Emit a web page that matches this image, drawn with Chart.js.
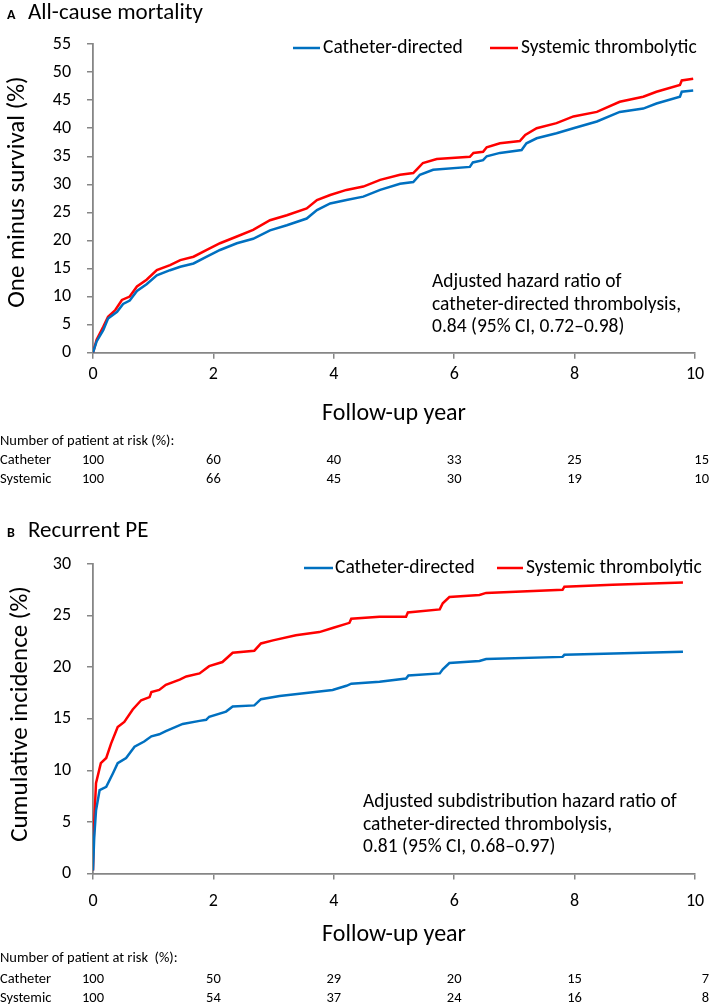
<!DOCTYPE html>
<html>
<head>
<meta charset="utf-8">
<script src="https://cdn.jsdelivr.net/npm/chart.js@4.4.1/dist/chart.umd.min.js"></script>
<style>
html,body{margin:0;padding:0;background:#fff;}
#wrap{position:relative;width:709px;height:1005px;overflow:hidden;}
canvas{position:absolute;left:0;}
#ca{top:0;}
#cb{top:510px;}
</style>
</head>
<body>
<div id="wrap">
<canvas id="ca" width="709" height="510"></canvas>
<canvas id="cb" width="709" height="495"></canvas>
</div>
<script>
// ---------- DATA ----------
// Panel A: all-cause mortality (one minus survival, %)
const mortCatheterYears = [0,0.06,0.17,0.25,0.40,0.50,0.61,0.73,0.89,1.06,1.28,1.45,1.67,1.89,2.11,2.39,2.66,2.94,3.22,3.55,3.72,3.94,4.21,4.49,4.77,5.10,5.32,5.43,5.65,6.26,6.31,6.48,6.54,6.76,7.12,7.20,7.37,7.70,7.98,8.37,8.75,9.14,9.36,9.75,9.78,9.97];
const mortCatheterPct   = [0,2.0,4.0,6.1,7.3,8.7,9.3,11.0,12.2,13.8,14.7,15.3,15.9,17.1,18.3,19.5,20.3,21.8,22.7,23.9,25.4,26.6,27.2,27.8,29.0,30.1,30.4,31.7,32.6,33.1,33.9,34.3,35.0,35.6,36.1,37.3,38.2,39.1,40.0,41.2,42.9,43.5,44.4,45.6,46.5,46.7];
const mortSystemicYears = [0,0.06,0.17,0.25,0.37,0.48,0.61,0.73,0.89,1.06,1.28,1.45,1.67,1.89,2.11,2.39,2.66,2.94,3.22,3.55,3.72,3.94,4.21,4.49,4.77,5.10,5.32,5.40,5.48,5.71,6.26,6.32,6.48,6.54,6.76,7.09,7.18,7.37,7.70,7.98,8.37,8.75,9.14,9.36,9.75,9.78,9.97];
const mortSystemicPct   = [0,2.3,4.6,6.4,7.6,9.4,10.0,11.8,13.0,14.7,15.6,16.5,17.1,18.3,19.5,20.7,21.9,23.6,24.5,25.7,27.2,28.1,29.0,29.6,30.8,31.7,32.0,32.9,33.8,34.5,34.9,35.6,35.8,36.6,37.3,37.7,38.8,40.0,40.9,42.1,42.9,44.7,45.6,46.5,47.7,48.5,48.8];

// Panel B: recurrent PE (cumulative incidence, %)
const peCatheterYears = [0,0.02,0.05,0.11,0.22,0.33,0.41,0.55,0.69,0.85,0.97,1.10,1.21,1.49,1.77,1.88,1.93,2.21,2.32,2.68,2.79,3.10,3.54,3.98,4.21,4.29,4.76,5.20,5.24,5.76,5.81,5.92,6.42,6.53,7.80,7.83,9.80];
const peCatheterPct   = [0.3,3.5,6.1,8.1,8.4,9.7,10.7,11.2,12.3,12.8,13.3,13.5,13.8,14.5,14.8,14.9,15.2,15.7,16.2,16.3,16.9,17.2,17.5,17.8,18.2,18.4,18.6,18.9,19.2,19.4,19.8,20.4,20.6,20.8,21.0,21.2,21.5];
const peSystemicYears = [0,0.02,0.05,0.13,0.22,0.30,0.41,0.52,0.66,0.80,0.94,0.97,1.10,1.21,1.44,1.55,1.77,1.93,2.15,2.32,2.68,2.79,2.99,3.37,3.76,3.98,4.26,4.29,4.76,5.20,5.23,5.76,5.81,5.92,6.42,6.53,7.80,7.83,8.63,9.80];
const peSystemicPct   = [0.3,5.0,8.75,10.7,11.2,12.6,14.2,14.7,15.9,16.8,17.1,17.6,17.8,18.3,18.8,19.1,19.4,20.1,20.5,21.4,21.6,22.3,22.6,23.1,23.4,23.8,24.3,24.7,24.9,24.9,25.3,25.6,26.2,26.8,27.0,27.2,27.5,27.8,28.0,28.2];

// Number of patients at risk (%)
const riskYears = [0,2,4,6,8,10];
const mortRiskCatheter = [100,60,40,33,25,15];
const mortRiskSystemic = [100,66,45,30,19,10];
const peRiskCatheter = [100,50,29,20,15,7];
const peRiskSystemic = [100,54,37,24,16,8];

// Labels
const seriesNames = ['Catheter-directed','Systemic thrombolytic'];
const riskRowNames = ['Catheter','Systemic'];
const xTitle = 'Follow-up year';

// ---------- RENDER ----------
const FONT = 'Carlito, Lato, "Noto Sans", sans-serif';
const BLUE = '#0070C0', RED = '#FF0000', AXIS = '#868686';

function pts(xs, ys){ return xs.map((x,i)=>({x:x, y:ys[i]})); }

function panelPlugin(p){
  return {
    id: 'panelText',
    afterDraw(chart){
      const ctx = chart.ctx, xs = chart.scales.x, ca = chart.chartArea, o = p.top;
      ctx.save();
      ctx.fillStyle = '#000';
      // Panel title
      ctx.textAlign = 'left'; ctx.textBaseline = 'alphabetic';
      ctx.font = 'bold 14px ' + FONT;
      ctx.fillText(p.letter, 7, p.titleBase - o);
      ctx.font = '23px ' + FONT;
      ctx.fillText(p.title, 28, p.titleBase - o);
      // Legend
      ctx.textBaseline = 'middle';
      ctx.font = '19.5px ' + FONT;
      ctx.lineWidth = 2.5;
      p.legend.forEach((l,i)=>{
        ctx.strokeStyle = i===0 ? BLUE : RED;
        ctx.beginPath(); ctx.moveTo(l[0], p.legendY - o); ctx.lineTo(l[1], p.legendY - o); ctx.stroke();
        ctx.fillText(seriesNames[i], l[2], p.legendY - o);
      });
      // Annotation
      ctx.font = '19.5px ' + FONT;
      p.note.forEach((t,i)=> ctx.fillText(t, p.noteX, p.noteY[i] - o));
      // Y-axis title
      ctx.save();
      ctx.translate(p.yTitleX, p.yTitleY - o);
      ctx.rotate(-Math.PI/2);
      ctx.textAlign = 'center';
      ctx.font = '25px ' + FONT;
      ctx.fillText(p.yTitle, 0, 0);
      ctx.restore();
      // X-axis title
      ctx.textAlign = 'center';
      ctx.font = '24px ' + FONT;
      ctx.fillText(xTitle, (ca.left+ca.right)/2, p.xTitleY - o);
      // At-risk table
      ctx.font = '14.5px ' + FONT;
      ctx.textAlign = 'left';
      ctx.fillText(p.riskHeader, 0, p.riskY[0] - o);
      ctx.fillText(riskRowNames[0], 0, p.riskY[1] - o);
      ctx.fillText(riskRowNames[1], 0, p.riskY[2] - o);
      riskYears.forEach((yr,i)=>{
        const last = i === riskYears.length - 1;
        ctx.textAlign = last ? 'right' : 'center';
        const x = last ? 709 : xs.getPixelForValue(yr);
        ctx.fillText(String(p.risk[0][i]), x, p.riskY[1] - o);
        ctx.fillText(String(p.risk[1][i]), x, p.riskY[2] - o);
      });
      ctx.restore();
    }
  };
}

function makeChart(id, p){
  return new Chart(document.getElementById(id), {
    type: 'line',
    data: { datasets: [
      { label: seriesNames[0], data: pts(p.cx, p.cy), borderColor: BLUE, borderWidth: 2.5, pointRadius: 0, tension: 0, fill: false },
      { label: seriesNames[1], data: pts(p.sx, p.sy), borderColor: RED, borderWidth: 2.5, pointRadius: 0, tension: 0, fill: false }
    ]},
    options: {
      responsive: false, animation: false, devicePixelRatio: 1,
      layout: { padding: { top: p.padTop, right: 14, left: 0, bottom: 0 } },
      plugins: { legend: { display: false }, tooltip: { enabled: false }, title: { display: false } },
      scales: {
        x: {
          type: 'linear', min: 0, max: 10,
          ticks: { stepSize: 2, color: '#000', font: { family: FONT, size: 18 }, padding: p.xTickPad, maxRotation: 0 },
          grid: { display: true, drawOnChartArea: false, drawTicks: true, tickLength: 6, color: AXIS, lineWidth: 1.5 },
          border: { display: true, color: AXIS, width: 1.8 },
          afterFit(s){ s.height = p.xAxisH; s.paddingRight = 0; s.paddingLeft = 0; }
        },
        y: {
          min: 0, max: p.ymax,
          ticks: { stepSize: 5, color: '#000', font: { family: FONT, size: 18 }, padding: 16 },
          grid: { display: true, drawOnChartArea: false, drawTicks: true, tickLength: 6, color: AXIS, lineWidth: 1.5 },
          border: { display: true, color: AXIS, width: 1.8 },
          afterFit(s){ s.width = 93; }
        }
      }
    },
    plugins: [panelPlugin(p)]
  });
}

makeChart('ca', {
  top: 0, padTop: 44, xAxisH: 157.3, xTickPad: 5, ymax: 55,
  cx: mortCatheterYears, cy: mortCatheterPct, sx: mortSystemicYears, sy: mortSystemicPct,
  letter: 'A', title: 'All-cause mortality', titleBase: 19,
  legendY: 48, legend: [[293,320,323],[490,518,521]],
  note: ['Adjusted hazard ratio of','catheter-directed thrombolysis,','0.84 (95% CI, 0.72\u20130.98)'],
  noteX: 432, noteY: [282,305,327],
  yTitle: 'One minus survival (%)', yTitleX: 18, yTitleY: 192,
  xTitleY: 414,
  riskHeader: 'Number of patient at risk (%):', riskY: [441,460,479],
  risk: [mortRiskCatheter, mortRiskSystemic]
});

makeChart('cb', {
  top: 510, padTop: 54, xAxisH: 131.4, xTickPad: 11, ymax: 30,
  cx: peCatheterYears, cy: peCatheterPct, sx: peSystemicYears, sy: peSystemicPct,
  letter: 'B', title: 'Recurrent PE', titleBase: 537,
  legendY: 568, legend: [[304,333,335],[497,523,526]],
  note: ['Adjusted subdistribution hazard ratio of','catheter-directed thrombolysis,','0.81 (95% CI, 0.68\u20130.97)'],
  noteX: 363, noteY: [802,825,847],
  yTitle: 'Cumulative incidence (%)', yTitleX: 21, yTitleY: 714,
  xTitleY: 935,
  riskHeader: 'Number of patient at risk  (%):', riskY: [958,979,998],
  risk: [peRiskCatheter, peRiskSystemic]
});
</script>
</body>
</html>
